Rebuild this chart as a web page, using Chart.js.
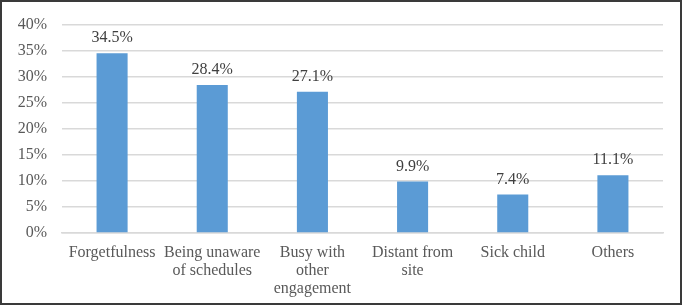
<!DOCTYPE html>
<html>
<head>
<meta charset="utf-8">
<script src="https://cdn.jsdelivr.net/npm/chart.js@4.4.0/dist/chart.umd.min.js"></script>
<style>
  html, body { margin: 0; padding: 0; background: #fff; }
  #wrap { width: 685px; height: 307px; position: relative; }
</style>
</head>
<body>
<div id="wrap"><canvas id="reasonsChart"></canvas></div>
<script>
// data
const categories = [
  'Forgetfulness',
  ['Being unaware', 'of schedules'],
  ['Busy with', 'other', 'engagement'],
  ['Distant from', 'site'],
  'Sick child',
  'Others'
];
const percentages = [34.5, 28.4, 27.1, 9.9, 7.4, 11.1];
const yTicks = [0, 5, 10, 15, 20, 25, 30, 35, 40];

const FONT = "'Liberation Serif', 'Times New Roman', serif";

// value labels above each bar
const barLabels = {
  id: 'barLabels',
  afterDatasetsDraw(chart) {
    const ctx = chart.ctx;
    const meta = chart.getDatasetMeta(0);
    ctx.save();
    ctx.font = '16px ' + FONT;
    ctx.fillStyle = '#404040';
    ctx.textAlign = 'center';
    ctx.textBaseline = 'bottom';
    meta.data.forEach((bar, i) => {
      ctx.fillText(percentages[i].toFixed(1) + '%', bar.x, bar.y - 7);
    });
    ctx.restore();
  }
};

// thin dark frame around the whole figure
const frame = {
  id: 'frame',
  afterDraw(chart) {
    const ctx = chart.ctx;
    ctx.save();
    ctx.strokeStyle = '#3a3a3a';
    ctx.lineWidth = 2;
    ctx.strokeRect(1, 1, 680, 303);
    ctx.restore();
  }
};

const ctx = document.getElementById('reasonsChart').getContext('2d');
const reasonsChart = new Chart(ctx, {
  type: 'bar',
  data: {
    labels: categories,
    datasets: [{
      data: percentages,
      backgroundColor: '#5b9bd5',
      borderWidth: 0,
      categoryPercentage: 1,
      barPercentage: 0.31
    }]
  },
  options: {
    responsive: true,
    maintainAspectRatio: false,
    animation: false,
    layout: { padding: { left: 4, right: 22, top: 23, bottom: 4 } },
    plugins: {
      legend: { display: false },
      tooltip: { enabled: false }
    },
    scales: {
      y: {
        min: 0,
        max: 40,
        afterFit(scale) { scale.width = 58; },
        afterBuildTicks(scale) { scale.ticks = yTicks.map(v => ({ value: v })); },
        border: { display: false },
        grid: { color: '#d9d9d9', lineWidth: 1.5, drawTicks: false },
        ticks: {
          padding: 15,
          color: '#595959',
          font: { family: FONT, size: 16 },
          callback: v => v + '%'
        }
      },
      x: {
        afterFit(scale) { scale.height = 70; },
        border: { color: '#d9d9d9', width: 1.5 },
        grid: { display: false, drawTicks: false },
        ticks: {
          padding: 11,
          maxRotation: 0,
          autoSkip: false,
          color: '#595959',
          font: { family: FONT, size: 16, lineHeight: 1.12 }
        }
      }
    }
  },
  plugins: [barLabels, frame]
});
</script>
</body>
</html>
